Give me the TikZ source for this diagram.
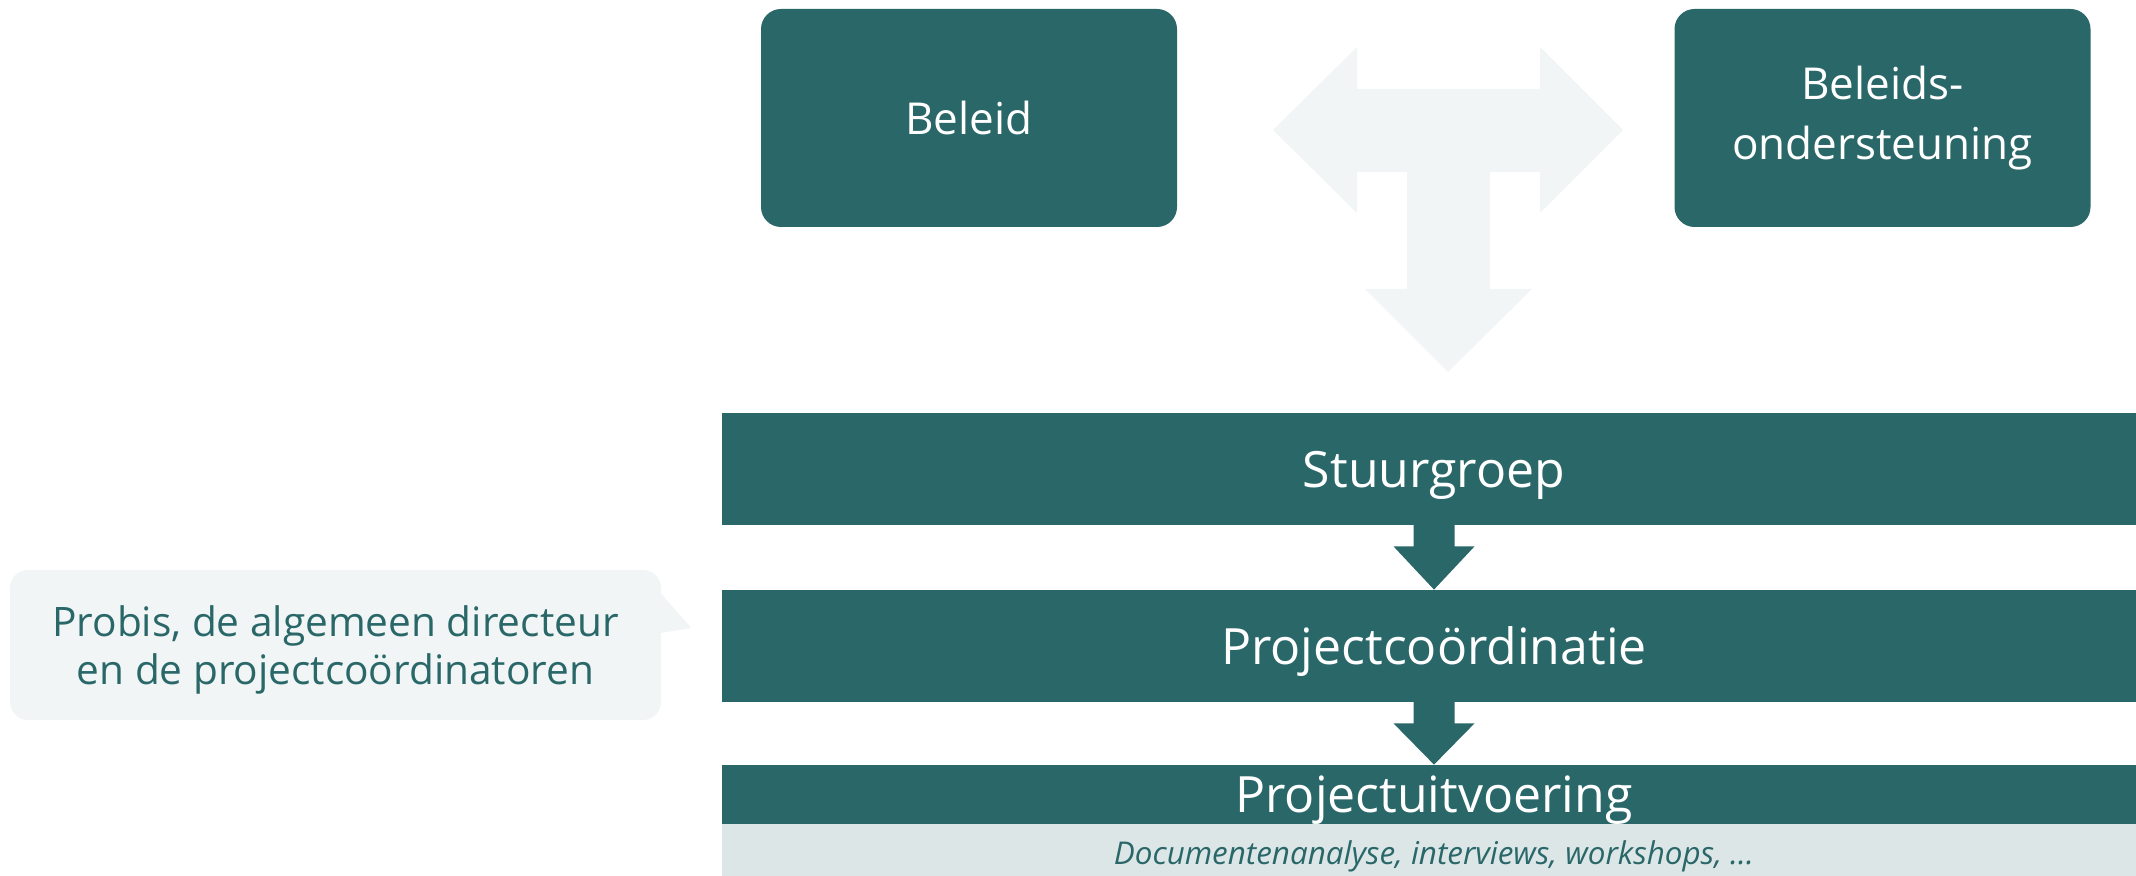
\documentclass[tikz,border=0pt]{standalone}
\usepackage{fontspec}
\setmainfont{Open Sans}
\usetikzlibrary{calc}
\definecolor{tealbox}{HTML}{2A6769}
\definecolor{lightg}{HTML}{F1F5F5}
\definecolor{lightbar}{HTML}{DCE6E7}
\begin{document}
\begin{tikzpicture}[x=0.5pt,y=-0.5pt,
  topbox/.style={fill=tealbox, text=white, rounded corners=10pt, minimum width=208pt, minimum height=109pt, inner sep=0pt, align=center, font=\fontsize{22}{30}\selectfont},
  bar/.style={fill=tealbox, text=white, minimum width=712pt, inner sep=0pt, text depth=0pt, font=\fontsize{25}{30}\selectfont},
  subbar/.style={fill=lightbar, minimum width=712pt, minimum height=26pt, inner sep=0pt},
  subtext/.style={text=tealbox, inner sep=0pt, font=\fontsize{15.7}{19}\selectfont\itshape},
  callbox/.style={fill=lightg, rounded corners=9pt, minimum width=325.5pt, minimum height=75pt, inner sep=0pt},
  calltext/.style={text=tealbox, inner sep=0pt, align=center, font=\fontsize{20.3}{24}\selectfont},
  blockarrow/.style={fill=tealbox},
  bigarrow/.style={fill=lightg}
]
\useasboundingbox (0,0) rectangle (2136,876);
\clip (0,0) rectangle (2136,876);

% big T-shaped three-way arrow
\fill[bigarrow] (1273,130) -- (1357,47) -- (1357,89) -- (1540,89) -- (1540,47) -- (1623,130)
  -- (1540,213) -- (1540,172) -- (1490,172) -- (1490,289) -- (1532,289) -- (1448,372)
  -- (1365,289) -- (1407,289) -- (1407,172) -- (1357,172) -- (1357,213) -- cycle;

% top boxes
\node[topbox] (beleid) at (969,118) {Beleid};
\node[topbox] (steun) at (1882.5,118) {Beleids-\\ondersteuning};

% bars
\node[bar, minimum height=56pt] (stuur) at (1434,469) {Stuurgroep};
\node[bar, minimum height=56pt] (pc) at (1434,646) {Projectcoördinatie};
\node[subbar] (sub) at (1434,850) {};
\node[bar, minimum height=29.5pt] (pu) at (1434,794.5) {Projectuitvoering};
\node[subtext] (subt) at (1434,856) {Documentenanalyse, interviews, workshops, …};

% down arrows between bars
\fill[blockarrow] ($(stuur.south)+(-20.5,-1)$) -- ($(stuur.south)+(-20.5,21)$) -- ($(stuur.south)+(-40.5,21)$)
  -- (pc.north) -- ($(stuur.south)+(40.5,21)$) -- ($(stuur.south)+(20.5,21)$) -- ($(stuur.south)+(20.5,-1)$) -- cycle;
\fill[blockarrow] ($(pc.south)+(-20.5,-1)$) -- ($(pc.south)+(-20.5,21)$) -- ($(pc.south)+(-40.5,21)$)
  -- (pu.north) -- ($(pc.south)+(40.5,21)$) -- ($(pc.south)+(20.5,21)$) -- ($(pc.south)+(20.5,-1)$) -- cycle;

% callout
\node[callbox] (call) at (335.5,645) {};
\fill[lightg] ($(call.east)+(-1,-52)$) -- ($(call.east)+(30,-17)$) -- ($(call.east)+(-1,-12)$) -- cycle;
\node[calltext] (calltxt) at ($(call.center)+(0,5)$) {Probis, de algemeen directeur\\en de projectcoördinatoren};
\end{tikzpicture}
\end{document}
